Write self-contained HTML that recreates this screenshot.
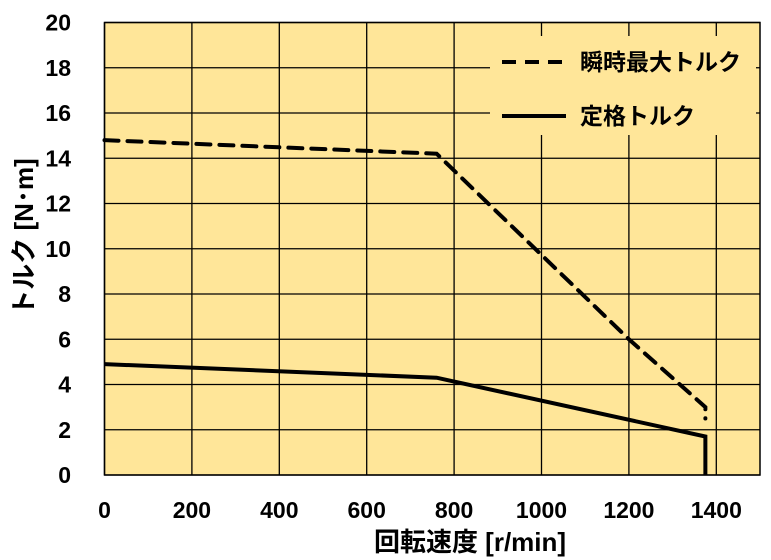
<!DOCTYPE html>
<html><head><meta charset="utf-8"><style>
html,body{margin:0;padding:0;background:#fff;}
svg{display:block;font-family:"Liberation Sans","Noto Sans CJK JP",sans-serif;}
</style></head><body>
<svg id="chart" width="771" height="560" xmlns="http://www.w3.org/2000/svg"></svg>
<script>
const xTicks=[0,200,400,600,800,1000,1200,1400];
const yTicks=[0,2,4,6,8,10,12,14,16,18,20];
const peakSpeed=[0,760,1200,1375,1375];
const peakTorque=[14.8,14.2,6.0,3.0,2.5];
const ratedSpeed=[0,760,1375,1375];
const ratedTorque=[4.9,4.3,1.7,0];
const L=104.5,R=760,T=22.5,B=475;
const X=v=>L+v/1500*(R-L);
const Y=v=>B-v/20*(B-T);
const svg=document.getElementById('chart');
const NS='http://www.w3.org/2000/svg';
function mk(tag,attrs,parent){const e=document.createElementNS(NS,tag);for(const k in attrs)e.setAttribute(k,attrs[k]);(parent||svg).appendChild(e);return e;}
let e=mk('rect',{x:L,y:T,width:R-L,height:B-T,fill:'#FFE699'});


xTicks.forEach(v=>{
  const g=mk('line',{x1:X(v),x2:X(v),y1:T,y2:B,stroke:'#000','stroke-width':1.3});
  
  
  const t=mk('text',{x:X(v),y:518,'text-anchor':'middle','font-size':23,'font-weight':'bold'});
  t.textContent=v;
  
  
});
yTicks.forEach(v=>{
  const g=mk('line',{x1:L,x2:R,y1:Y(v),y2:Y(v),stroke:'#000','stroke-width':1.3});
  
  
  const t=mk('text',{x:71,y:Y(v)+8,'text-anchor':'end','font-size':23,'font-weight':'bold'});
  t.textContent=v;
  
  
});
e=mk('rect',{x:L,y:T,width:R-L,height:B-T,fill:'none',stroke:'#000','stroke-width':1.5});


e=mk('rect',{x:490,y:36,width:266,height:99,fill:'#FFE699'});


function pts(xs,ys){return xs.map((v,i)=>X(v)+','+Y(ys[i])).join(' ');}
e=mk('polyline',{points:pts(peakSpeed,peakTorque),fill:'none',stroke:'#000','stroke-width':4,'stroke-dasharray':'14,9','stroke-linecap':'round'});


e=mk('polyline',{points:pts(ratedSpeed,ratedTorque),fill:'none',stroke:'#000','stroke-width':4});


e=mk('line',{x1:502,x2:566,y1:62,y2:62,stroke:'#000','stroke-width':4,'stroke-dasharray':'14,9'});


e=mk('text',{x:580,y:70,'font-size':23,'font-weight':'bold'});e.textContent='瞬時最大トルク';


e=mk('line',{x1:502,x2:566,y1:116,y2:116,stroke:'#000','stroke-width':4});


e=mk('text',{x:580,y:124,'font-size':23,'font-weight':'bold'});e.textContent='定格トルク';


e=mk('text',{x:470,y:551,'text-anchor':'middle','font-size':26,'font-weight':'bold'});e.textContent='回転速度 [r/min]';


e=mk('text',{x:0,y:0,'text-anchor':'middle','font-size':26,'font-weight':'bold',transform:'translate(33,237) rotate(-90)'});e.textContent='トルク [N･m]';


</script>
</body></html>
